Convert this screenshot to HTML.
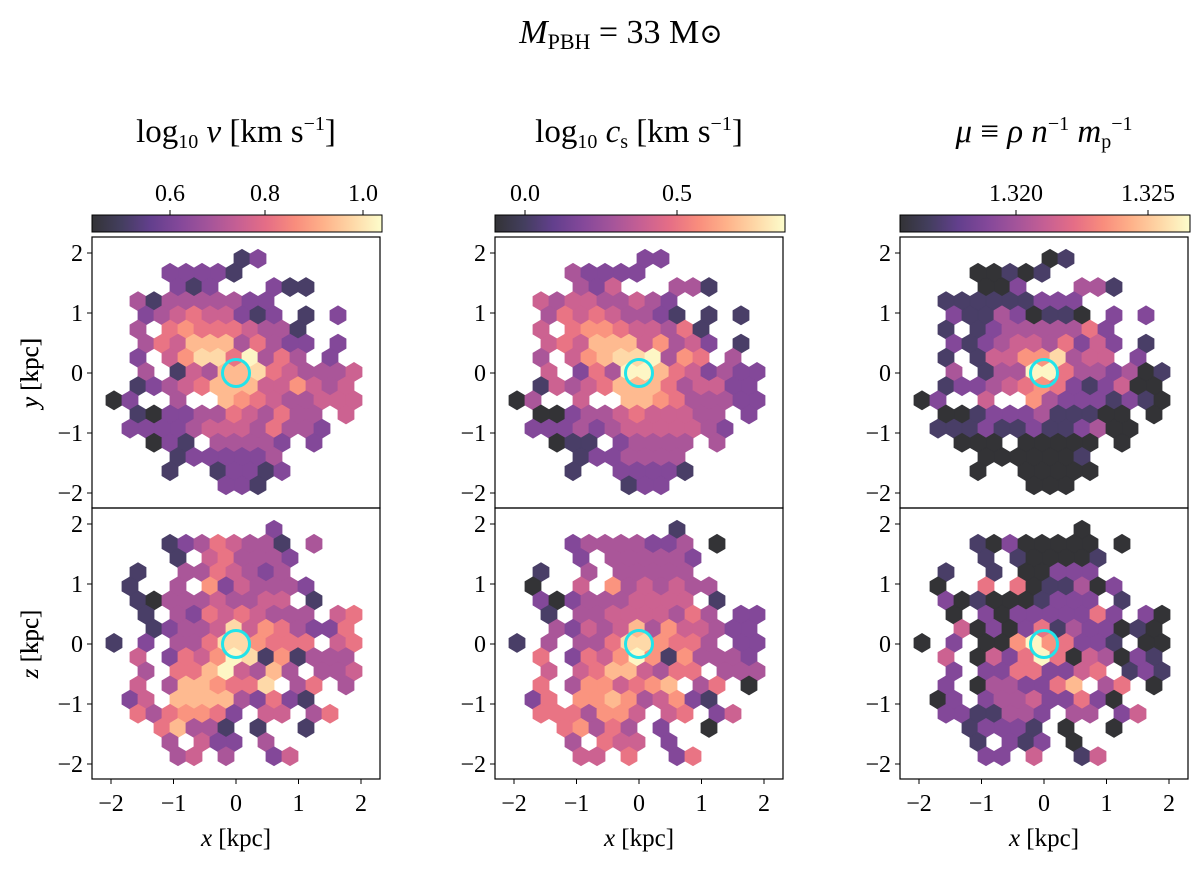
<!DOCTYPE html>
<html><head><meta charset="utf-8">
<style>
html,body{margin:0;padding:0;background:#fff;}
svg text{font-family:"Liberation Serif","DejaVu Serif",serif;fill:#000;}
</style></head>
<body>
<svg id="fig" width="1200" height="865" viewBox="0 0 1200 865" xmlns="http://www.w3.org/2000/svg">
<defs>
<linearGradient id="magma" x1="0" x2="1" y1="0" y2="0">
<stop offset="0" stop-color="#000004"/><stop offset="0.1" stop-color="#140e36"/>
<stop offset="0.2" stop-color="#3b0f70"/><stop offset="0.3" stop-color="#641a80"/>
<stop offset="0.4" stop-color="#8c2981"/><stop offset="0.5" stop-color="#b73779"/>
<stop offset="0.6" stop-color="#de4968"/><stop offset="0.7" stop-color="#f7705c"/>
<stop offset="0.8" stop-color="#fe9f6d"/><stop offset="0.9" stop-color="#fecf92"/>
<stop offset="1" stop-color="#fcfdbf"/>
</linearGradient>
</defs>
<text x="621" y="43" font-size="34" text-anchor="middle"><tspan font-style="italic">M</tspan><tspan font-size="22" dy="6">PBH</tspan><tspan dy="-6"> = 33 M</tspan><tspan font-size="28">⊙</tspan></text>
</svg>
<script>
// ---- data: hex cell levels (0-9, '.' = empty), rows top->bottom, columns k ----
const vXY = [".........12.......","....22221.........",".....212...211....","..313333322.......","...234544212.1.2..","..3.565554331.....","...35477735322.2..","..2.468859353.2...","...3.143778543334.","..12345777446434..",".02..3..765433444.","..102233543533.4..","..2222344435332...","...021.33332.2....",".....1222223......","....1..12212......","........221......."];
const vXZ = ["...........2......","....12354331.3....",".....1.453332.....","..1..3354323......","..1..3.6243332....","..1033343344.1....","...1.325454333.45.","...1233484653225..",".1.2.335886555.45.","..4.254698161333..","...3.55794373.334.","..4.3776558.35.3..","..24.777732521....","..5356652.44.35...","....57331.1..1....","....3.422.3.......",".....34.3..24....."];
const csXY = [".........22.......","....32222.........",".....324...331....","..434433432.......","...354543321.1.1..","..4.566544351.....","...45477746342.1..","..3.467889365.3...","...4.253997542322.","..14345777534422..",".03..4..776533322.","..002334544433.2..","..2223234444432...","...011.23333.3....",".....1223333......","....1..22221......","........122......."];
const csXZ = ["...........1......","....23333223.0....",".....2.333332.....","..1..3.33333......","..0..4.6343433....","..2023334444.1....","...1.334444353.22.","...3243473644322..",".1.3.335886553.22.","..5.254696163332..","...4.45774355.333.","..5.3664567.35.0..","..25.667634621....","..5553664.45.24...","....56353.2..0....","....3.544.2.......",".....44.5..25....."];
const muXY = [".........01.......","....00101.........",".....002...331....","..111111222.......","...211320110.2.2..","..1.123333352.....","...21234435242.1..","..1.144668344.2...","...3.133995332301.","..12234565212400..",".02..4..632221210.","..001222311100.0..","..1112112112300...","...000.00000.0....",".....0000001......","....0..00000......","........000......."];
const muXZ = ["...........0......","....10200000.0....",".....1.100001.....","..1..1.00222......","..0..5.5011302....","..2010001222.1....","...0.202222252.20.","...4020251322010..",".0.2.006965221.00.","..4.042595043021..","...2.22552245.121.","..2.0332257.35.0..","..02.233422520....","..2211332.33.24...","....12221.0..0....","....1.212.0.......",".....22.4..14....."];
const levelValue = [0.0,0.12,0.3,0.42,0.52,0.62,0.72,0.82,0.9,0.98];
const xTicks = [-2,-1,0,1,2];
const yTicks = [2,1,0,-1,-2];
const cbarTicks1 = ["0.6","0.8","1.0"];
const cbarTicks2 = ["0.0","0.5"];
const cbarTicks3 = ["1.320","1.325"];
// hex grid in data coords (kpc)
const hexX0 = -2.208, hexDX = 0.256, hexY0 = 1.905, hexDY = 0.236;

const NS = "http://www.w3.org/2000/svg";
const svg = document.getElementById('fig');
const magma = [[0,0,4],[20,14,54],[59,15,112],[100,26,128],[140,41,129],[183,55,121],[222,73,104],[247,112,92],[254,159,109],[254,207,146],[252,253,191]];
function cmap(v){
  const t=Math.max(0,Math.min(1,v))*10, i=Math.min(9,Math.floor(t)), f=t-i;
  const c=magma[i].map((a,j)=>a+(magma[i+1][j]-a)*f);
  return 'rgb('+c.map(a=>Math.round(a*0.8+255*0.2)).join(',')+')';
}
function mk(tag,attrs,parent){const e=document.createElementNS(NS,tag);for(const k in attrs)e.setAttribute(k,attrs[k]);(parent||svg).appendChild(e);return e;}

const cols=[{L:92,title:'v',ticks:cbarTicks1,tickX:[170,265,363],xy:vXY,xz:vXZ},
            {L:495,title:'cs',ticks:cbarTicks2,tickX:[525,677],xy:csXY,xz:csXZ},
            {L:900,title:'mu',ticks:cbarTicks3,tickX:[1016,1148],xy:muXY,xz:muXZ}];
const PW=288, PH=271;

function drawPanel(L,T,rows,ylab,showX,name){
  const sx = x => L+144 + x*62.5;
  const sy = y => T+136 - y*60;
  const g=mk('g',{});
  
  
  const hw=8, r=9.45;
  rows.forEach((row,ri)=>{
    for(let k=0;k<row.length;k++){
      const ch=row[k]; if(ch==='.')continue;
      const xd = hexX0 + hexDX*k + (ri%2===1?hexDX/2:0);
      const yd = hexY0 - hexDY*ri;
      const cx=sx(xd), cy=sy(yd);
      const col=cmap(levelValue[+ch]);
      const p=mk('polygon',{points:[[cx,cy-r],[cx+hw,cy-r/2],[cx+hw,cy+r/2],[cx,cy+r],[cx-hw,cy+r/2],[cx-hw,cy-r/2]].map(a=>a[0].toFixed(1)+','+a[1].toFixed(1)).join(' '),fill:col,stroke:col,'stroke-width':'0.8'},g);
      
      
    }
  });
  const c=mk('circle',{cx:sx(0),cy:sy(0),r:13.5,fill:'none',stroke:'#22e3ea','stroke-width':3},g);
  
  
  const fr=mk('rect',{x:L,y:T,width:PW,height:PH,fill:'none',stroke:'#000','stroke-width':1.2},g);
  
  
  yTicks.forEach(v=>{
    mk('line',{x1:L-5,x2:L,y1:sy(v),y2:sy(v),stroke:'#000','stroke-width':1},g);
    const t=mk('text',{x:L-9,y:sy(v)+8,'font-size':24,'text-anchor':'end'},g);
    t.textContent = v<0?'\u2212'+(-v):String(v);
    
    
  });
  const yl=mk('text',{x:0,y:0,'font-size':25,'text-anchor':'middle',transform:'translate(38,'+(T+136)+') rotate(-90)'},g);
  yl.innerHTML='<tspan font-style="italic">'+ylab+'</tspan> [kpc]';
  
  
  if(showX){
    xTicks.forEach(v=>{
      mk('line',{x1:sx(v),x2:sx(v),y1:T+PH,y2:T+PH+5,stroke:'#000','stroke-width':1},g);
      const t=mk('text',{x:sx(v),y:T+PH+32,'font-size':24,'text-anchor':'middle'},g);
      t.textContent = v<0?'\u2212'+(-v):String(v);
      
      
    });
    const xl=mk('text',{x:L+144,y:846,'font-size':25,'text-anchor':'middle'},g);
    xl.innerHTML='<tspan font-style="italic">x</tspan> [kpc]';
    
    
  }
}

const titles = {
  v:'log<tspan font-size="20" dy="6">10</tspan><tspan dy="-6" font-style="italic"> v</tspan> [km s<tspan font-size="20" dy="-12">\u22121</tspan><tspan dy="12">]</tspan>',
  cs:'log<tspan font-size="20" dy="6">10</tspan><tspan dy="-6">  </tspan><tspan font-style="italic">c</tspan><tspan font-size="20" dy="6">s</tspan><tspan dy="-6"> [km s</tspan><tspan font-size="20" dy="-12">\u22121</tspan><tspan dy="12">]</tspan>',
  mu:'<tspan font-style="italic">\u03bc</tspan> \u2261 <tspan font-style="italic">\u03c1 n</tspan><tspan font-size="20" dy="-12">\u22121</tspan><tspan dy="12" font-style="italic"> m</tspan><tspan font-size="20" dy="6">p</tspan><tspan font-size="20" dy="-18">\u22121</tspan>'
};

cols.forEach((c,i)=>{
  const t=mk('text',{x:c.L+144,y:142,'font-size':33,'text-anchor':'middle'});
  t.innerHTML=titles[c.title];
  
  
  const cb=mk('rect',{x:c.L,y:215,width:290,height:17,fill:'url(#magma)','fill-opacity':0.8,stroke:'#000','stroke-width':1});
  
  
  c.ticks.forEach((lab,j)=>{
    mk('line',{x1:c.tickX[j],x2:c.tickX[j],y1:210,y2:215,stroke:'#000','stroke-width':1});
    const tl=mk('text',{x:c.tickX[j],y:201,'font-size':24,'text-anchor':'middle'});
    tl.textContent=lab;
    
    
  });
  drawPanel(c.L,237,c.xy,'y',false,'panel-xy-'+c.title);
  drawPanel(c.L,508,c.xz,'z',true,'panel-xz-'+c.title);
});
</script>
</body></html>
